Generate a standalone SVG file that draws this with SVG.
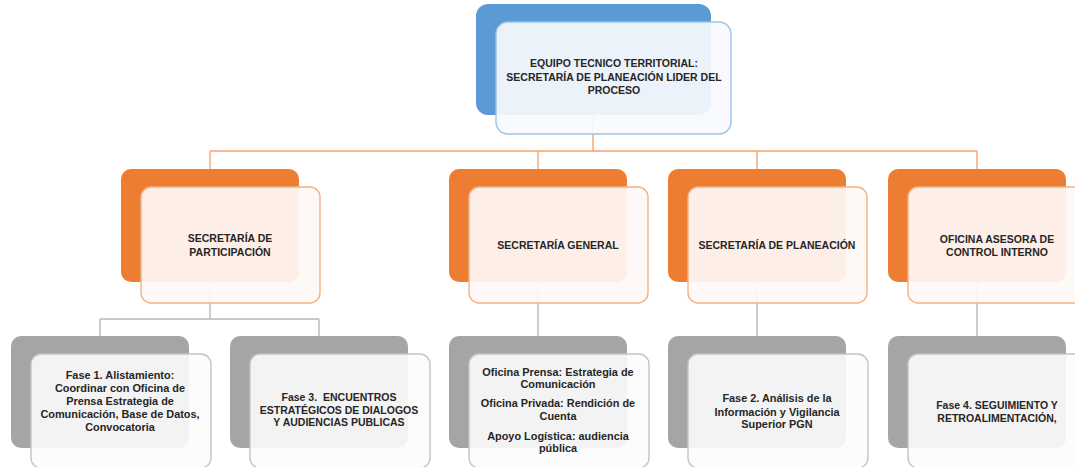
<svg xmlns="http://www.w3.org/2000/svg" width="1075" height="467" viewBox="0 0 1075 467">
<style>
.bk-b{fill:#5B9BD5}
.bk-o{fill:#ED7D31}
.bk-g{fill:#A5A5A5}
.fr-b{fill:#F7FAFD;fill-opacity:0.92;stroke:#9DC3E6;stroke-width:1.4}
.fr-o{fill:#FEF8F5;fill-opacity:0.93;stroke:#F4B183;stroke-width:1.4}
.fr-g{fill:#FCFCFC;fill-opacity:0.9;stroke:#C4C4C4;stroke-width:1.4}
.co{fill:none;stroke:#F3A46F;stroke-width:1.4}
.cg{fill:none;stroke:#B7B7B7;stroke-width:1.4}
text{font-family:"Liberation Sans",Arial,sans-serif;font-weight:bold;font-size:10.5px;fill:#262626;text-anchor:middle}
.s{font-size:10.9px}
</style>
<rect width="1075" height="467" fill="#FFFFFF"/>
<g id="connectors">
<path class="co" d="M593,115 V151 M210,151 H977 M210,151 V169 M538,151 V169 M757,151 V169 M977,151 V169"/>
<path class="cg" d="M210,282 V319 M100,319 H319 M100,319 V336 M319,319 V336 M538,282 V336 M757,282 V336 M977,282 V336"/>
</g>
<g id="n-top">
<rect class="bk-b" x="476" y="4" width="235" height="111" rx="12"/>
<rect class="fr-b" x="496" y="22" width="235" height="112" rx="12"/>
<text x="614" y="67">EQUIPO TECNICO TERRITORIAL:</text>
<text x="614" y="81">SECRETARÍA DE PLANEACIÓN LIDER DEL</text>
<text x="614" y="94">PROCESO</text>
</g>
<g id="n-participacion">
<rect class="bk-o" x="121" y="169" width="178" height="113" rx="10"/>
<rect class="fr-o" x="141" y="187" width="179" height="116" rx="10"/>
<text x="230" y="242">SECRETARÍA DE</text>
<text x="230" y="256">PARTICIPACIÓN</text>
</g>
<g id="n-general">
<rect class="bk-o" x="449" y="169" width="178" height="113" rx="10"/>
<rect class="fr-o" x="469" y="187" width="179" height="116" rx="10"/>
<text x="558" y="249">SECRETARÍA GENERAL</text>
</g>
<g id="n-planeacion">
<rect class="bk-o" x="668" y="169" width="178" height="113" rx="10"/>
<rect class="fr-o" x="688" y="187" width="179" height="116" rx="10"/>
<text x="777" y="249">SECRETARÍA DE PLANEACIÓN</text>
</g>
<g id="n-control">
<rect class="bk-o" x="888" y="169" width="178" height="113" rx="10"/>
<rect class="fr-o" x="908" y="187" width="179" height="116" rx="10"/>
<text x="997" y="243">OFICINA ASESORA DE</text>
<text x="997" y="256">CONTROL INTERNO</text>
</g>
<g id="n-fase1">
<rect class="bk-g" x="11" y="336" width="178" height="112" rx="10"/>
<rect class="fr-g" x="31" y="354" width="180" height="114" rx="10"/>
<text class="s" x="120" y="379">Fase 1. Alistamiento:</text>
<text class="s" x="120" y="392">Coordinar con Oficina de</text>
<text class="s" x="120" y="405">Prensa Estrategia de</text>
<text class="s" x="120" y="418">Comunicación, Base de Datos,</text>
<text class="s" x="120" y="431">Convocatoria</text>
</g>
<g id="n-fase3">
<rect class="bk-g" x="230" y="336" width="178" height="112" rx="10"/>
<rect class="fr-g" x="250" y="354" width="180" height="114" rx="10"/>
<text x="339" y="401" xml:space="preserve">Fase 3.  ENCUENTROS</text>
<text x="339" y="414">ESTRATÉGICOS DE DIALOGOS</text>
<text x="339" y="426">Y AUDIENCIAS PUBLICAS</text>
</g>
<g id="n-oficinas">
<rect class="bk-g" x="449" y="336" width="178" height="112" rx="10"/>
<rect class="fr-g" x="469" y="354" width="180" height="114" rx="10"/>
<text class="s" x="558" y="376">Oficina Prensa: Estrategia de</text>
<text class="s" x="558" y="388">Comunicación</text>
<text class="s" x="558" y="407">Oficina Privada: Rendición de</text>
<text class="s" x="558" y="420">Cuenta</text>
<text class="s" x="558" y="440">Apoyo Logística: audiencia</text>
<text class="s" x="558" y="452">pública</text>
</g>
<g id="n-fase2">
<rect class="bk-g" x="668" y="336" width="178" height="112" rx="10"/>
<rect class="fr-g" x="688" y="354" width="180" height="114" rx="10"/>
<text class="s" x="777" y="402">Fase 2. Análisis de la</text>
<text class="s" x="777" y="416">Información y Vigilancia</text>
<text class="s" x="777" y="428">Superior PGN</text>
</g>
<g id="n-fase4">
<rect class="bk-g" x="888" y="336" width="178" height="112" rx="10"/>
<rect class="fr-g" x="908" y="354" width="180" height="114" rx="10"/>
<text x="997" y="409">Fase 4. SEGUIMIENTO Y</text>
<text x="997" y="422">RETROALIMENTACIÓN,</text>
</g>
</svg>
